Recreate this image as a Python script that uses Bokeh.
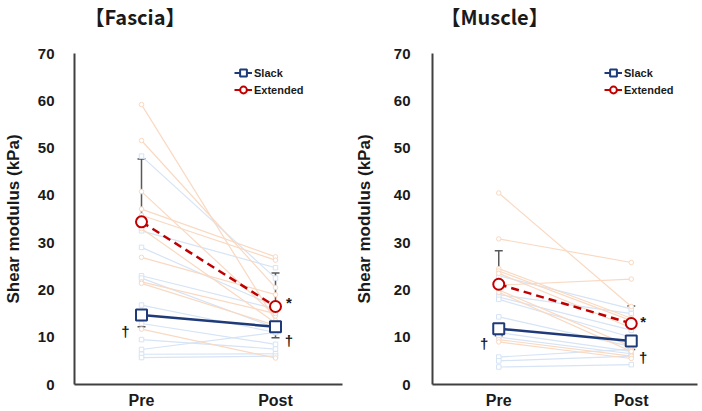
from bokeh.plotting import figure
from bokeh.layouts import row
from bokeh.models import (ColumnDataSource, Whisker, TeeHead, Legend, LegendItem,
                          FixedTicker, Range1d, Title)
from bokeh.embed import file_html
from bokeh.resources import INLINE
from bokeh.core.properties import value

# ---- data -------------------------------------------------------------
timepoints = ["Pre", "Post"]
time_x = [1, 2]
y_ticks = [0, 10, 20, 30, 40, 50, 60, 70]

# Fascia, individual subjects
fascia_slack_pre = [48.3, 32.5, 29.0, 23.0, 22.5, 16.8, 12.9, 9.5, 7.4, 6.4, 5.7]
fascia_slack_post = [22.5, 24.7, 16.5, 16.0, 12.0, 11.0, 8.5, 7.5, 11.0, 6.5, 6.0]
fascia_ext_pre = [59.2, 51.6, 40.8, 37.1, 35.8, 33.0, 26.9, 21.7, 21.4, 11.7]
fascia_ext_post = [13.5, 20.5, 14.5, 27.0, 26.3, 13.0, 19.0, 15.0, 12.5, 5.6]
# Fascia, group mean and SD (Pre, Post)
fascia_slack_mean = [14.7, 12.2]
fascia_slack_sd = [2.5, 2.3]
fascia_ext_mean = [34.4, 16.5]
fascia_ext_sd = [13.3, 7.1]

# Muscle, individual subjects
muscle_slack_pre = [23.0, 19.0, 18.5, 18.0, 14.3, 11.0, 10.0, 5.8, 5.0, 3.7]
muscle_slack_post = [16.0, 15.0, 11.5, 10.0, 8.0, 7.0, 6.5, 7.5, 6.0, 4.2]
muscle_ext_pre = [40.5, 30.8, 24.5, 24.0, 23.5, 21.0, 20.0, 19.5, 9.5, 9.0]
muscle_ext_post = [16.5, 25.8, 14.0, 13.5, 12.0, 22.3, 8.0, 7.0, 6.0, 5.5]
# Muscle, group mean and SD (Pre, Post)
muscle_slack_mean = [11.8, 9.2]
muscle_slack_sd = [1.5, 1.8]
muscle_ext_mean = [21.2, 12.9]
muscle_ext_sd = [7.1, 3.7]

# ---- style -------------------------------------------------------------
NAVY = "#1f3a78"
RED = "#c00000"
LIGHT_BLUE = "#d6e4f5"
LIGHT_ORANGE = "#f9d9c2"
ERR = "#595959"
TXT = "#1a1a1a"
FONT = "Liberation Sans"


def make_panel(title, s_pre, s_post, e_pre, e_post, s_mean, s_sd, e_mean, e_sd,
               width, border_left, border_right, tick_standoff, label_standoff,
               legend_x, title_offset, marks):
    p = figure(width=width, height=411, output_backend="svg", toolbar_location=None,
               x_range=Range1d(0.5, 2.5), y_range=Range1d(0, 70),
               min_border_left=border_left, min_border_right=border_right,
               min_border_top=53, min_border_bottom=27)
    p.outline_line_color = None
    p.grid.visible = False
    p.background_fill_color = "white"
    p.border_fill_color = "white"

    # blank strip between the panel title and the plot area
    p.add_layout(Title(text=" ", text_font_size="8px", standoff=9), "above")

    # panel title
    p.title.text = title
    p.title.align = "left"
    p.title.offset = title_offset
    p.title.vertical_align = "top"
    p.title.standoff = 2
    p.title.text_font = "Noto Sans CJK JP"
    p.title.text_font_style = "bold"
    p.title.text_font_size = "20px"
    p.title.text_color = TXT

    # individual subjects: thin pale lines with small open markers
    for pre, post, col, mk in ((s_pre, s_post, LIGHT_BLUE, "square"),
                               (e_pre, e_post, LIGHT_ORANGE, "circle")):
        n = len(pre)
        src = ColumnDataSource(dict(x0=[time_x[0]] * n, x1=[time_x[1]] * n, y0=pre, y1=post))
        p.segment(x0="x0", y0="y0", x1="x1", y1="y1", source=src,
                  line_color=col, line_width=1.2)
        p.scatter([time_x[0]] * n, pre, marker=mk, size=4.5, fill_color="white",
                  line_color=col, line_width=1)
        p.scatter([time_x[1]] * n, post, marker=mk, size=4.5, fill_color="white",
                  line_color=col, line_width=1)

    # SD bars: extended upward, slack downward
    e_src = ColumnDataSource(dict(x=time_x, lo=e_mean,
                                  hi=[m + s for m, s in zip(e_mean, e_sd)]))
    p.add_layout(Whisker(base="x", lower="lo", upper="hi", source=e_src,
                         line_color=ERR, line_width=1.5, lower_head=None,
                         upper_head=TeeHead(size=8, line_color=ERR, line_width=1.5)))
    s_src = ColumnDataSource(dict(x=time_x, hi=s_mean,
                                  lo=[m - s for m, s in zip(s_mean, s_sd)]))
    p.add_layout(Whisker(base="x", lower="lo", upper="hi", source=s_src,
                         line_color=ERR, line_width=1.5, upper_head=None,
                         lower_head=TeeHead(size=8, line_color=ERR, line_width=1.5)))

    # group means
    p.line(time_x, s_mean, line_color=NAVY, line_width=2.5)
    p.scatter(time_x, s_mean, marker="square", size=11, fill_color="white",
              line_color=NAVY, line_width=2)
    p.line(time_x, e_mean, line_color=RED, line_width=2.5, line_dash="8 5")
    p.scatter(time_x, e_mean, marker="circle", size=11, fill_color="white",
              line_color=RED, line_width=2)

    # significance marks
    mx, my, mt = marks
    p.text(x=mx, y=my, text=mt, text_align="center", text_baseline="middle",
           text_font=value(FONT), text_font_style="bold", text_font_size="15px",
           text_color=TXT)

    # legend keys: off-range points so only the key glyphs show, with solid lines
    ls = p.line(x=[0, 0.1], y=[-100, -100], line_color=NAVY, line_width=2)
    ms = p.scatter(x=[0], y=[-100], marker="square", size=8, fill_color="white",
                   line_color=NAVY, line_width=2)
    le = p.line(x=[0, 0.1], y=[-100, -100], line_color=RED, line_width=2)
    me = p.scatter(x=[0], y=[-100], marker="circle", size=8, fill_color="white",
                   line_color=RED, line_width=2)
    legend = Legend(items=[LegendItem(label="Slack", renderers=[ls, ms]),
                           LegendItem(label="Extended", renderers=[le, me])],
                    location=(legend_x, 286), glyph_width=18, glyph_height=17,
                    label_height=17, spacing=0, padding=0, margin=0,
                    label_standoff=2, border_line_alpha=0, background_fill_alpha=0,
                    label_text_font=FONT, label_text_font_size="11px",
                    label_text_font_style="bold", label_text_color=TXT)
    p.add_layout(legend)

    # axes
    p.xaxis.ticker = FixedTicker(ticks=time_x)
    p.xaxis.major_label_overrides = {t: lab for t, lab in zip(time_x, timepoints)}
    p.yaxis.ticker = FixedTicker(ticks=y_ticks)
    p.yaxis.axis_label = "Shear modulus (kPa)"
    for ax in (p.xaxis, p.yaxis):
        ax.axis_line_color = "#404040"
        ax.axis_line_width = 2
        ax.major_tick_line_color = None
        ax.minor_tick_line_color = None
        ax.major_label_text_font = FONT
        ax.major_label_text_font_style = "bold"
        ax.major_label_text_color = TXT
    p.xaxis.major_label_text_font_size = "16px"
    p.xaxis.major_label_standoff = 1
    p.yaxis.major_label_text_font_size = "15px"
    p.yaxis.major_label_standoff = tick_standoff
    p.yaxis.axis_label_standoff = label_standoff
    p.yaxis.axis_label_text_font = FONT
    p.yaxis.axis_label_text_font_style = "bold"
    p.yaxis.axis_label_text_font_size = "17px"
    p.yaxis.axis_label_text_color = TXT
    return p


fascia = make_panel("【Fascia】", fascia_slack_pre, fascia_slack_post,
                    fascia_ext_pre, fascia_ext_post,
                    fascia_slack_mean, fascia_slack_sd, fascia_ext_mean, fascia_ext_sd,
                    width=351, border_left=69, border_right=9,
                    tick_standoff=14, label_standoff=12, legend_x=160,
                    title_offset=10,
                    marks=([0.88, 2.1, 2.1], [11.2, 9.3, 17.3], ["†", "†", "*"]))
muscle = make_panel("【Muscle】", muscle_slack_pre, muscle_slack_post,
                    muscle_ext_pre, muscle_ext_post,
                    muscle_slack_mean, muscle_slack_sd, muscle_ext_mean, muscle_ext_sd,
                    width=351, border_left=75, border_right=5,
                    tick_standoff=16, label_standoff=17, legend_x=172,
                    title_offset=8,
                    marks=([0.89, 2.09, 2.09], [8.7, 5.7, 13.4], ["†", "†", "*"]))

layout = row(fascia, muscle)
open("out.html", "w").write(file_html(layout, INLINE))
